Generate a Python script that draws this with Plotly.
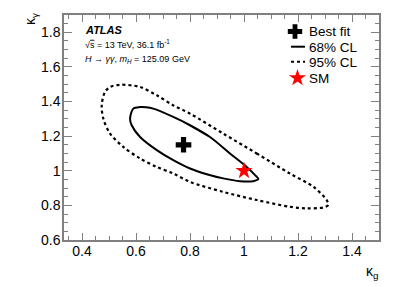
import plotly.graph_objects as go

# 68% CL contour (kappa_g, kappa_gamma)
cl68_kg = [0.800, 0.874, 0.948, 1.010, 1.041, 1.053, 1.034, 0.985, 0.923, 0.862, 0.800, 0.738,
           0.677, 0.615, 0.584, 0.578, 0.590, 0.615, 0.637, 0.664, 0.738, 0.800, 0.874]
cl68_ky = [1.263, 1.195, 1.100, 1.022, 0.975, 0.952, 0.940, 0.940, 0.956, 0.980, 1.013, 1.061,
           1.119, 1.195, 1.263, 1.301, 1.359, 1.368, 1.367, 1.359, 1.311, 1.263, 1.195]

# 95% CL contour
cl95_kg = [0.923, 1.047, 1.170, 1.257, 1.306, 1.312, 1.294, 1.232, 1.170, 1.047, 0.923, 0.800,
           0.738, 0.677, 0.615, 0.553, 0.504, 0.479, 0.473, 0.485, 0.504, 0.541, 0.615, 0.677,
           0.738, 0.800, 0.923]
cl95_ky = [1.215, 1.100, 0.984, 0.907, 0.831, 0.802, 0.788, 0.783, 0.792, 0.831, 0.878, 0.936,
           0.984, 1.022, 1.071, 1.138, 1.215, 1.301, 1.378, 1.455, 1.484, 1.497, 1.484, 1.436,
           1.378, 1.330, 1.215]

best_kg = [0.776]
best_ky = [1.150]
sm_kg = [1.0]
sm_ky = [1.0]

x_ticks = [0.4, 0.6, 0.8, 1.0, 1.2, 1.4]
x_labels = ["0.4", "0.6", "0.8", "1", "1.2", "1.4"]
y_ticks = [0.6, 0.8, 1.0, 1.2, 1.4, 1.6, 1.8]
y_labels = ["0.6", "0.8", "1", "1.2", "1.4", "1.6", "1.8"]

legend_labels = ["Best fit", "68% CL", "95% CL", "SM"]

FONT = "Liberation Sans, Arial, Helvetica, sans-serif"
AXC = "#808080"
L, R, T, B = 64, 379, 15, 240
W, H = R - L, B - T


def px(x):
    return (x - L) / W


def py(y):
    return (B - y) / H


fig = go.Figure()
fig.add_trace(go.Scatter(x=cl95_kg, y=cl95_ky, mode="lines",
                         line=dict(color="black", width=2.2, dash="dot", shape="spline",
                                   smoothing=0.9)))
fig.add_trace(go.Scatter(x=cl68_kg, y=cl68_ky, mode="lines",
                         line=dict(color="black", width=2, shape="spline", smoothing=0.9)))
fig.add_trace(go.Scatter(x=best_kg, y=best_ky, mode="markers",
                         marker=dict(symbol="cross", size=13, color="black", line=dict(width=0))))
fig.add_trace(go.Scatter(x=sm_kg, y=sm_ky, mode="markers",
                         marker=dict(symbol="star", size=13, color="red", line=dict(width=0))))

# legend symbols on an overlay axis spanning the plot in [0,1]
fig.add_trace(go.Scatter(x=[px(295)], y=[py(31.5)], mode="markers", xaxis="x3", yaxis="y3",
                         marker=dict(symbol="cross", size=12, color="black", line=dict(width=0))))
fig.add_trace(go.Scatter(x=[px(291), px(305)], y=[py(46.7), py(46.7)], mode="lines",
                         xaxis="x3", yaxis="y3", line=dict(color="black", width=2)))
fig.add_trace(go.Scatter(x=[px(291), px(305)], y=[py(61.7), py(61.7)], mode="lines",
                         xaxis="x3", yaxis="y3", line=dict(color="black", width=2, dash="dot")))
fig.add_trace(go.Scatter(x=[px(297.5)], y=[py(78)], mode="markers", xaxis="x3", yaxis="y3",
                         marker=dict(symbol="star", size=13, color="red", line=dict(width=0))))

tickfont = dict(size=14, color="black", family=FONT)
common = dict(showgrid=False, zeroline=False, showline=True, linecolor=AXC, linewidth=1.5,
              ticks="inside", tickcolor=AXC, tickwidth=1, automargin=False)
minor = dict(dtick=0.05, tick0=0.0, ticks="inside", ticklen=4, tickcolor=AXC, showgrid=False)

fig.update_layout(
    xaxis=dict(range=[0.3333, 1.5], tickvals=x_ticks, ticktext=x_labels, ticklen=7,
               tickfont=tickfont, minor=minor, ticklabelstandoff=-3, **common),
    yaxis=dict(range=[0.6, 1.9], tickvals=y_ticks, ticktext=y_labels, ticklen=8,
               tickfont=tickfont, minor=minor, ticklabelstandoff=-1, **common),
    xaxis2=dict(range=[0.3333, 1.5], tickvals=x_ticks, ticklen=7, showticklabels=False,
                overlaying="x", side="top", minor=minor, matches="x", **common),
    yaxis2=dict(range=[0.6, 1.9], tickvals=y_ticks, ticklen=8, showticklabels=False,
                overlaying="y", side="right", minor=minor, matches="y", **common),
    xaxis3=dict(range=[0, 1], visible=False, overlaying="x", fixedrange=True),
    yaxis3=dict(range=[0, 1], visible=False, overlaying="y", fixedrange=True),
)
# dummy trace to show the mirrored axes
fig.add_trace(go.Scatter(x=[None], y=[None], xaxis="x2", yaxis="y2", showlegend=False))

ann = [
    dict(text="<b><i>ATLAS</i></b>", x=83, y=30, size=11),
    dict(text="√<span style='text-decoration:overline'>s</span> = 13 TeV, 36.1 fb<sup>-1</sup>",
         x=83, y=44.5, size=9),
    dict(text="<i>H</i> → <i>γγ</i>, <i>m<sub>H</sub></i> = 125.09 GeV", x=83, y=59.5, size=9),
]
annotations = []
for a in ann:
    annotations.append(dict(text=a["text"], xref="paper", yref="paper",
                            x=px(a["x"]), y=py(a["y"]), xanchor="left", yanchor="middle",
                            showarrow=False,
                            font=dict(size=a["size"], family=FONT, color="black")))
for lab, yy in zip(legend_labels, [31.5, 47, 62, 78]):
    annotations.append(dict(text=lab, xref="paper", yref="paper", x=px(307), y=py(yy),
                            xanchor="left", yanchor="middle", showarrow=False,
                            font=dict(size=13.5, family=FONT, color="black")))
annotations.append(dict(text="κ<sub>γ</sub>", xref="paper", yref="paper",
                        x=px(31), y=py(11), xanchor="center", yanchor="top",
                        textangle=-90, showarrow=False,
                        font=dict(size=14, family=FONT, color="black")))
annotations.append(dict(text="κ<sub>g</sub>", xref="paper", yref="paper",
                        x=px(380), y=py(272), xanchor="right", yanchor="middle",
                        showarrow=False, font=dict(size=14, family=FONT, color="black")))

fig.update_layout(
    width=399, height=287,
    margin=dict(l=L, r=399 - R, t=T, b=287 - B),
    paper_bgcolor="white", plot_bgcolor="white",
    font=dict(family=FONT, color="black"),
    showlegend=False,
    annotations=annotations,
)

fig.write_html("out.html", config={"displayModeBar": False},
               post_script="document.body.style.margin='0';document.body.style.padding='0';")
